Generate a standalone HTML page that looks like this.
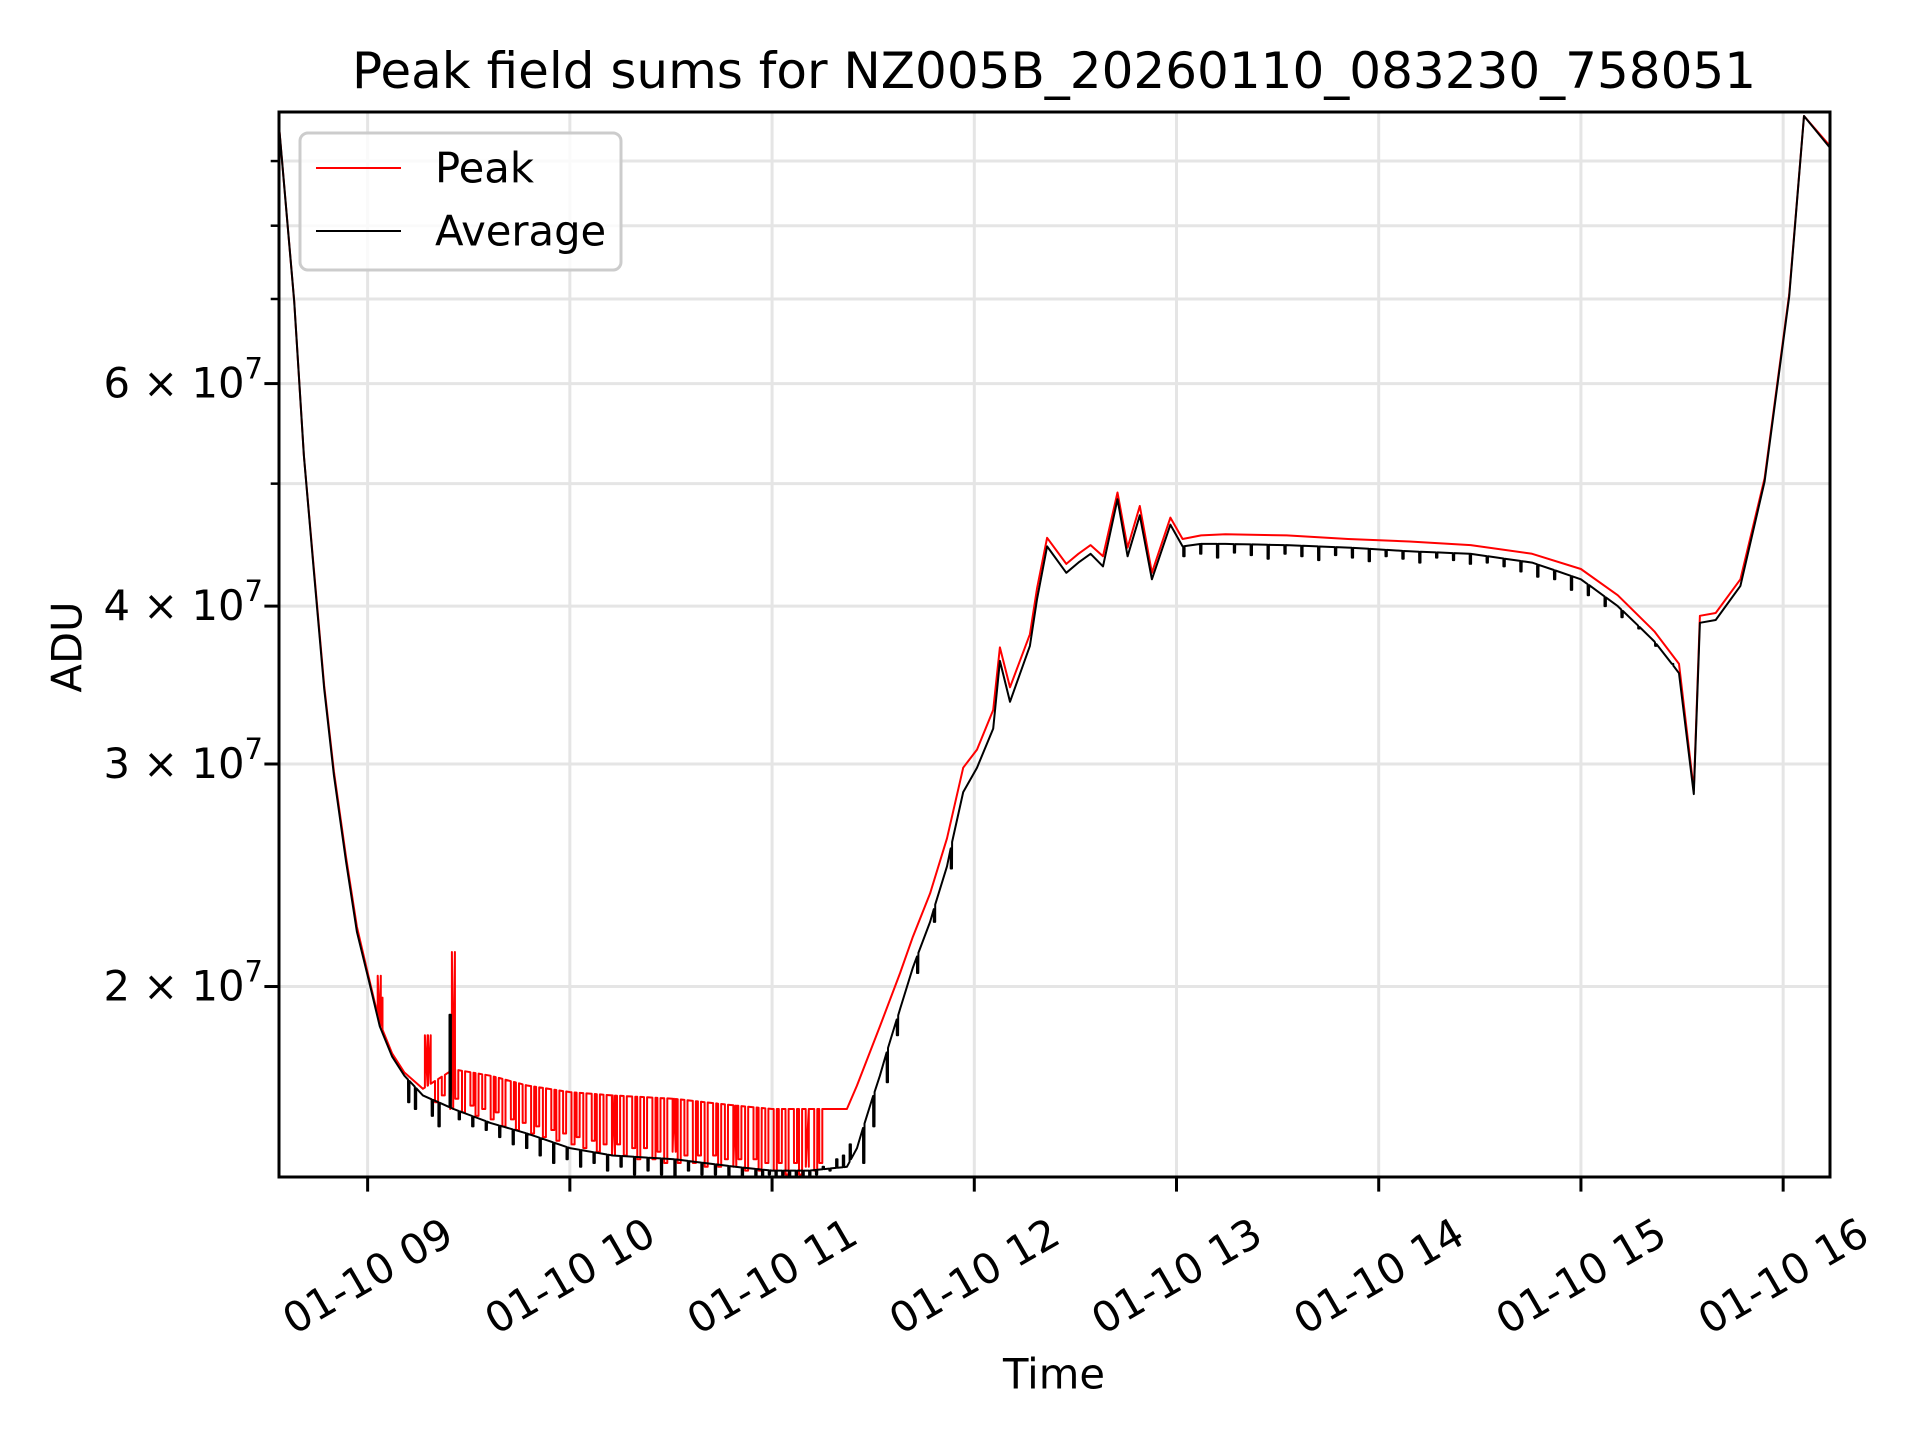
<!DOCTYPE html>
<html><head><meta charset="utf-8"><style>
html,body{margin:0;padding:0;background:#fff;}
svg{display:block;font-family:"DejaVu Sans","Liberation Sans",sans-serif;}
</style></head><body>
<svg id="chart" width="1920" height="1440" viewBox="0 0 1920 1440" xmlns="http://www.w3.org/2000/svg">
<rect x="0" y="0" width="1920" height="1440" fill="#fff"/>
<defs><clipPath id="plotclip"><rect x="279" y="112" width="1551" height="1065"/></clipPath></defs>
<g id="grid"></g>
<g id="series" clip-path="url(#plotclip)"></g>
<rect x="279" y="112" width="1551" height="1065" fill="none" stroke="#000" stroke-width="3"/>
<g id="axes"></g>
<text x="1054" y="71" font-size="50" text-anchor="middle" dominant-baseline="central">Peak field sums for NZ005B_20260110_083230_758051</text>
<text x="1054" y="1374" font-size="41.7" text-anchor="middle" dominant-baseline="central">Time</text>
<text x="67" y="647" font-size="41.7" text-anchor="middle" dominant-baseline="central" transform="rotate(-90 67 647)">ADU</text>
<g>
<rect x="300" y="133" width="321" height="137" rx="8" fill="#fff" fill-opacity="0.8" stroke="#ccc" stroke-width="3"/>
<line x1="316" y1="168" x2="401" y2="168" stroke="#f00" stroke-width="2"/>
<text x="435" y="168" font-size="41.7" dominant-baseline="central">Peak</text>
<line x1="316" y1="231" x2="401" y2="231" stroke="#000" stroke-width="2"/>
<text x="435" y="231" font-size="41.7" dominant-baseline="central">Average</text>
</g>
</svg>
<script>
// time in minutes after 08:00, values in units of 1e7 ADU
const baseTimes = [33.8,38.2,41.1,44.1,47.1,50.0,53.6,56.8,60.4,63.6,67.3,70.9,76.4,85.5,96.4,107.3,120,132.7,150.9,169.1,180,190.9,202.2,205.2,212,218,221.8,226.9,231.9,236.7,240.8,245.6,247.6,250.6,256.5,258.6,261.6,267.3,270.9,274.5,278.2,282.5,285.5,289.1,292.7,298.2,301.8,307.3,314.5,332.7,350.9,369.1,387.3,405.5,420,430.9,441.8,449.1,453.5,455.3,460,467.3,474.5,481.8,486.2,494.2];
const peakVals = [9.54,6.97,5.26,4.26,3.46,2.96,2.53,2.23,2.03,1.87,1.77,1.71,1.66,1.72,1.70,1.67,1.65,1.64,1.63,1.61,1.60,1.60,1.60,1.67,1.86,2.05,2.19,2.37,2.62,2.98,3.08,3.31,3.71,3.45,3.80,4.13,4.53,4.32,4.40,4.47,4.38,4.92,4.45,4.80,4.25,4.70,4.52,4.55,4.56,4.55,4.52,4.50,4.47,4.40,4.28,4.08,3.82,3.60,2.86,3.93,3.95,4.20,5.05,7.06,9.77,9.23];
const avgVals = [9.54,6.97,5.26,4.24,3.44,2.94,2.51,2.21,2.02,1.86,1.76,1.70,1.64,1.60,1.56,1.53,1.49,1.47,1.46,1.44,1.43,1.43,1.44,1.49,1.70,1.92,2.07,2.25,2.49,2.85,2.98,3.20,3.62,3.36,3.72,4.05,4.46,4.25,4.33,4.40,4.30,4.86,4.38,4.72,4.20,4.64,4.46,4.48,4.48,4.47,4.45,4.42,4.40,4.33,4.20,4.00,3.75,3.54,2.84,3.88,3.90,4.15,5.02,7.03,9.77,9.20];
const peakSpikeTimes = [63,63.5,77,77.8,85,80,82,84.5,86,88,90.5,92,94,96.5,98,100,102.5,104,106,108.5,110,112,114.5,116,118,120.5,122,124,126.5,128,130,132.5,134,136,138.5,140,142,144.5,146,148,150.5,152,154,156.5,158,160,162.5,164,166,168.5,170,172,174.5,176,178,180.5,182,184,186.5,188,190,192.5,194];
const peakSpikeVals = [2.04,1.96,1.83,1.83,2.13,1.62,1.64,1.60,1.63,1.59,1.61,1.58,1.60,1.57,1.59,1.55,1.57,1.54,1.56,1.53,1.55,1.52,1.54,1.51,1.53,1.50,1.52,1.49,1.51,1.48,1.50,1.47,1.50,1.47,1.49,1.46,1.49,1.46,1.48,1.45,1.48,1.45,1.47,1.45,1.47,1.44,1.47,1.44,1.46,1.44,1.46,1.43,1.46,1.43,1.45,1.43,1.45,1.42,1.45,1.42,1.44,1.43,1.45];
const avgSpikeTimes = [72,74,79,81,84.3,87,91,95,99,103,107,111,115,119,123,127,131,135,139,143,147,151,155,159,163,167,171,175,177,179,181,183,185,187,189,191,193,195,197,199,201,203,207,210,214,217,223,228,233,302,307,312,317,322,327,332,337,342,347,352,357,362,367,372,377,382,387,392,397,402,407,412,417,422,427,432,437,442,447];
const avgSpikeVals = [1.62,1.60,1.58,1.55,1.90,1.57,1.55,1.54,1.52,1.50,1.49,1.47,1.45,1.46,1.44,1.45,1.43,1.44,1.42,1.43,1.42,1.41,1.43,1.42,1.42,1.41,1.40,1.41,1.40,1.42,1.39,1.40,1.39,1.40,1.41,1.39,1.42,1.44,1.43,1.46,1.47,1.50,1.45,1.55,1.68,1.83,2.05,2.25,2.48,4.38,4.40,4.37,4.41,4.39,4.36,4.40,4.38,4.35,4.39,4.37,4.34,4.38,4.36,4.33,4.37,4.35,4.32,4.33,4.30,4.26,4.22,4.20,4.12,4.08,4.00,3.92,3.84,3.72,3.60];
const xTickHours = ["09","10","11","12","13","14","15","16"];
const yMajorTicks = [2,3,4,6];
const yMinorTicks = [5,7,8,9];

const NS = "http://www.w3.org/2000/svg";
const L=279,R=1830,T=112,B=1177,T0=33.7,T1=493.9,LOGMIN=7.1503,PXDEC=1263.7;
function xs(t){return L+(t-T0)*(R-L)/(T1-T0);}
function ys(v){return B-(Math.log10(v*1e7)-LOGMIN)*PXDEC;}
function mk(tag,attrs,parent){const e=document.createElementNS(NS,tag);for(const k in attrs)e.setAttribute(k,attrs[k]);parent.appendChild(e);return e;}
const grid=document.getElementById('grid'),axes=document.getElementById('axes'),series=document.getElementById('series');

function interp(t,vals){
  if(t<=baseTimes[0])return vals[0];
  for(let i=1;i<baseTimes.length;i++){if(t<=baseTimes[i]){const f=(t-baseTimes[i-1])/(baseTimes[i]-baseTimes[i-1]);return vals[i-1]+f*(vals[i]-vals[i-1]);}}
  return vals[vals.length-1];
}
function buildPts(vals,sT,sV,w){
  const pts=baseTimes.map((t,i)=>[t,vals[i]]);
  sT.forEach((t,i)=>{const b=interp(t,vals);const b2=interp(t+w,vals);pts.push([t-0.01,b],[t,sV[i]],[t+w,sV[i]],[t+w+0.01,b2]);});
  pts.sort((a,b)=>a[0]-b[0]);
  return pts.map(p=>xs(p[0]).toFixed(1)+','+ys(p[1]).toFixed(1)).join(' ');
}

yMajorTicks.concat(yMinorTicks).forEach(v=>{
  const y=ys(v);
  const g=mk('line',{x1:L,x2:R,y1:y,y2:y,stroke:'#e5e5e5','stroke-width':3},grid);
  
  
});
yMajorTicks.forEach(v=>{
  const y=ys(v);
  const tk=mk('line',{x1:L-14.6,x2:L,y1:y,y2:y,stroke:'#000','stroke-width':3},axes);
  
  
  const tx=mk('text',{x:263,y:y+14,'font-size':41.7,'text-anchor':'end'},axes);
  
  
  tx.textContent=v+' \u00d7 10';
  const sp=mk('tspan',{'font-size':29,dy:-19},tx);
  sp.textContent='7';
});
yMinorTicks.forEach(v=>{
  const y=ys(v);
  const tk=mk('line',{x1:L-8.3,x2:L,y1:y,y2:y,stroke:'#000','stroke-width':2.5},axes);
  
  
});
xTickHours.forEach(h=>{
  const x=xs(parseInt(h,10)*60-480);
  const g=mk('line',{x1:x,x2:x,y1:T,y2:B,stroke:'#e5e5e5','stroke-width':3},grid);
  
  
  const tk=mk('line',{x1:x,x2:x,y1:B,y2:B+14.6,stroke:'#000','stroke-width':3},axes);
  
  
  const cy=1276;
  const tx=mk('text',{x:x,y:cy,'font-size':41.7,'text-anchor':'middle','dominant-baseline':'central',transform:`rotate(-30 ${x} ${cy})`},axes);
  
  
  tx.textContent='01-10 '+h;
});

const pk=mk('polyline',{points:buildPts(peakVals,peakSpikeTimes,peakSpikeVals,0.9),fill:'none',stroke:'#f00','stroke-width':2,'stroke-linejoin':'round'},series);


const av=mk('polyline',{points:buildPts(avgVals,avgSpikeTimes,avgSpikeVals,0.4),fill:'none',stroke:'#000','stroke-width':2,'stroke-linejoin':'round'},series);


</script>
</body></html>
